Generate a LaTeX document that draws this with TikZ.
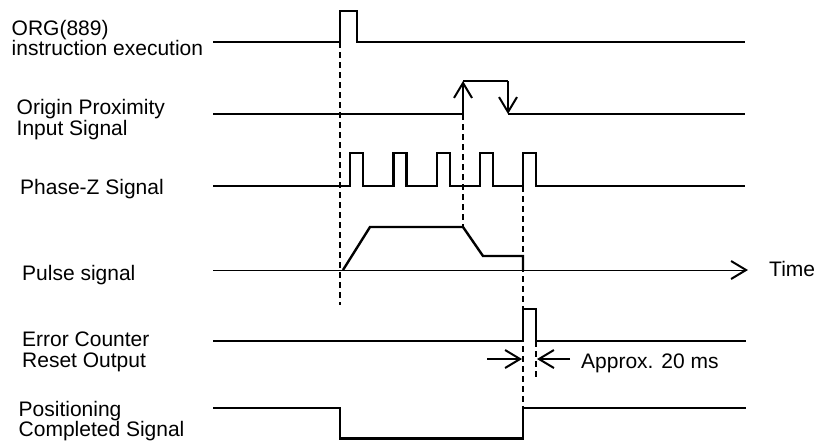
\documentclass[tikz,border=0pt]{standalone}
\usepackage{fontspec}
\setmainfont{Liberation Sans}
\usetikzlibrary{arrows.meta}

\begin{document}
\begin{tikzpicture}[x=1pt, y=-1pt,
    sig/.style={line width=2.4pt},
    guide/.style={line width=1.1pt, dash pattern=on 6pt off 4pt},
    barb/.style={-{Straight Barb[length=15pt, width=18pt, line width=2pt]}},
    lbl/.style={anchor=base west, inner sep=0pt, align=left,
        font=\fontsize{21}{20.5}\selectfont}]
    \useasboundingbox (0,0) rectangle (817,440);

    % signal names (base = last line)
    \node[lbl] (org)  at (11.5,55.8)  {ORG(889)\\instruction execution};
    \node[lbl] (prox) at (16.5,135)   {Origin Proximity\\Input Signal};
    \node[lbl] (phz)  at (20,194)     {Phase-Z Signal};
    \node[lbl] (pls)  at (22,280)     {Pulse signal};
    \node[lbl] (err)  at (22,367.3)   {Error Counter\\Reset Output};
    \node[lbl] (pos)  at (18.5,436.5) {Positioning\\Completed Signal};

    % dashed guides
    \draw[guide] (340,42) -- (340,305);
    \draw[guide] (463,114) -- (463,227);
    \draw[guide] (523,186) -- (523,408);
    \draw[guide] (536,341) -- (536,378);

    % ORG(889)
    \draw[sig] (213,42) -- (340,42) -- (340,11) -- (357,11) -- (357,42) -- (745,42);

    % origin proximity
    \draw[sig] (213,114) -- (463,114);
    \draw[sig, barb] (463,114) -- (463,81);
    \draw[sig] (463,81) -- (508,81);
    \draw[sig, barb] (508,81) -- (508,114);
    \draw[sig] (508,114) -- (745,114);

    % phase-Z
    \draw[sig] (213,186)
        foreach \x in {350,393.3,436.7,480,523} {
            -- (\x,186) -- (\x,153) -- (\x+13,153) -- (\x+13,186) }
        -- (745,186);

    % pulse signal
    \draw[line width=1pt, barb] (213,270) -- (748,270);
    \node[lbl] (time) at (769,276.7) {Time};
    \draw[sig] (343,270) -- (370,227) -- (463,227) -- (483,256) -- (523,256) -- (523,270);

    % error counter reset
    \draw[sig] (213,341) -- (523,341) -- (523,309) -- (536,309) -- (536,341) -- (746,341);
    \draw[line width=1.6pt, barb] (487,359) -- (522,359);
    \draw[line width=1.6pt, barb] (570,359) -- (537,359);
    \node[lbl] (ms) at (581,368) {Approx. 20 ms};

    % positioning completed
    \draw[sig] (213,408) -- (340,408) -- (340,438.5) -- (523,438.5) -- (523,408) -- (746,408);
\end{tikzpicture}
\end{document}
